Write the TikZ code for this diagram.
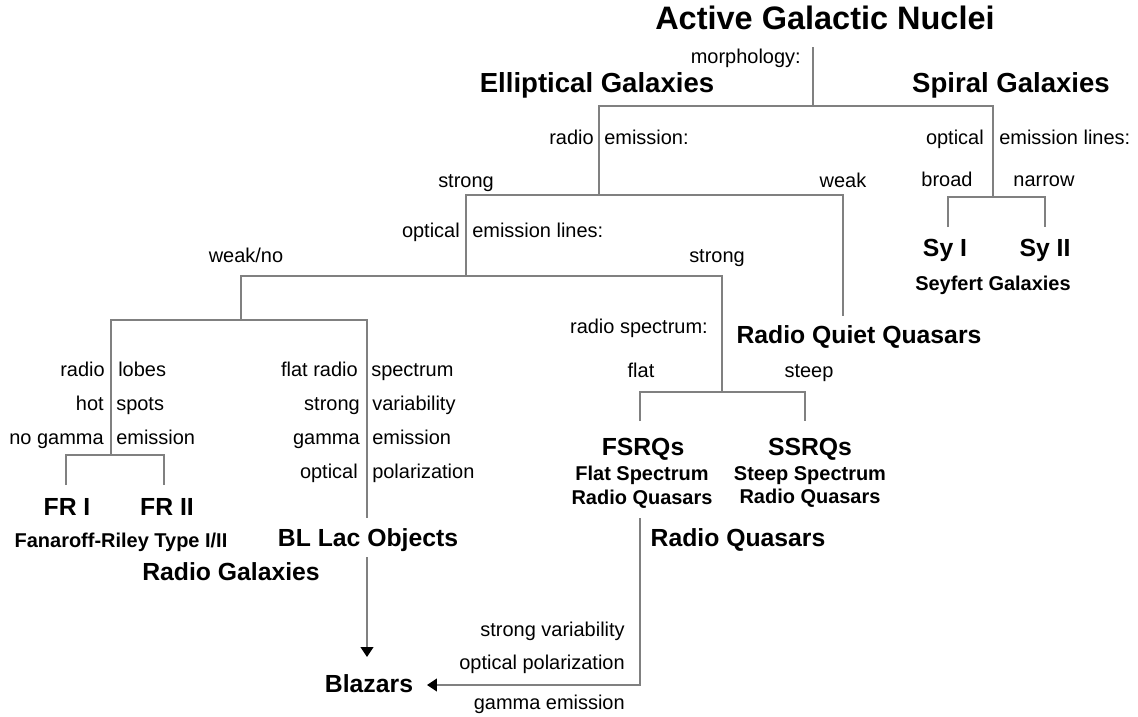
\documentclass[tikz,border=0pt]{standalone}
\usepackage{fontspec}
\setmainfont{Liberation Sans}
\usetikzlibrary{arrows.meta}

\begin{document}
\begin{tikzpicture}[x=0.025cm,y=-0.025cm,
		branch/.style={line width=1.1pt, black!50},
		tipped/.style={branch, -{Triangle[length=7pt,width=9pt,color=black]}},
		lab/.style={inner sep=0pt, text height=10pt, text depth=1pt, font=\fontsize{14.2}{17}\selectfont},
		klass/.style={inner sep=0pt, text height=12.7pt, text depth=0.7pt, font=\fontsize{17.6}{20}\selectfont\bfseries},
		galaxy/.style={inner sep=0pt, text height=14pt, text depth=0.8pt, font=\fontsize{19.6}{22}\selectfont\bfseries},
		subklass/.style={inner sep=0pt, align=center, font=\fontsize{14.2}{17}\selectfont\bfseries}]
			\useasboundingbox (0,0) rectangle (1138,717);
			% top level
			\node[inner sep=0pt, font=\fontsize{23.1}{26}\selectfont\bfseries] (agn) at (825,18) {Active Galactic Nuclei};
			\node[lab, anchor=east] (morph) at (801,57) {morphology:};
			\node[galaxy] (ellgal) at (597,83) {Elliptical Galaxies};
			\node[galaxy] (spigal) at (1011,83) {Spiral Galaxies};
			\coordinate (agntop) at (813,47);
			\coordinate (morphfork) at (813,106);
			\coordinate (radiofork) at (599,195);
			\coordinate (seyfork) at (993,197);
			\draw[branch] (agntop) -- (morphfork);
			\draw[branch] (radiofork) |- (morphfork) -| (seyfork);
			% spiral side
			\node[lab, anchor=east] (optS) at (984,138) {optical};
			\node[lab, anchor=west] (emlS) at (999,138) {emission lines:};
			\node[lab] (broad) at (947,180) {broad};
			\node[lab] (narrow) at (1044,180) {narrow};
			\coordinate (sya) at (948,227);
			\coordinate (syb) at (1045,227);
			\draw[branch] (sya) |- (seyfork) -| (syb);
			\node[klass] (syone) at (945,248) {Sy I};
			\node[klass] (sytwo) at (1045,248) {Sy II};
			\node[subklass] (seyfert) at (993,285) {Seyfert Galaxies};
			% elliptical side
			\node[lab, anchor=east] (radioE) at (594,138) {radio};
			\node[lab, anchor=west] (emE) at (604,138) {emission:};
			\node[lab] (strongE) at (466,181) {strong};
			\node[lab] (weakE) at (843,181) {weak};
			\coordinate (oelfork) at (466,276);
			\coordinate (rqqtop) at (843,316);
			\draw[branch] (oelfork) |- (radiofork) -| (rqqtop);
			\node[klass] (rqq) at (859,335) {Radio Quiet Quasars};
			\node[lab, anchor=east] (optE) at (460,231) {optical};
			\node[lab, anchor=west] (emlE) at (472,231) {emission lines:};
			\node[lab] (weakno) at (246,256) {weak/no};
			\node[lab] (strongO) at (717,256) {strong};
			\coordinate (weakfork) at (241,320);
			\coordinate (specfork) at (722,392);
			\draw[branch] (weakfork) |- (oelfork) -| (specfork);
			% radio galaxies and BL Lacs
			\coordinate (rgfork) at (111,455);
			\coordinate (blltop) at (367,518);
			\draw[branch] (rgfork) |- (weakfork) -| (blltop);
			\node[lab, anchor=east] (rgA) at (105,370) {radio};
			\node[lab, anchor=west] (rgB) at (118,370) {lobes};
			\node[lab, anchor=east] (rgC) at (104,404) {hot};
			\node[lab, anchor=west] (rgD) at (116,404) {spots};
			\node[lab, anchor=east] (rgE) at (104,438) {no gamma};
			\node[lab, anchor=west] (rgF) at (116,438) {emission};
			\coordinate (fra) at (66,485);
			\coordinate (frb) at (164,485);
			\draw[branch] (fra) |- (rgfork) -| (frb);
			\node[klass] (frone) at (67,507) {FR I};
			\node[klass] (frtwo) at (167,507) {FR II};
			\node[subklass] (fanaroff) at (121,542) {Fanaroff-Riley Type I/II};
			\node[klass] (radgal) at (231,572) {Radio Galaxies};
			\node[lab, anchor=east] (blA) at (358,370) {flat radio};
			\node[lab, anchor=west] (blB) at (371,370) {spectrum};
			\node[lab, anchor=east] (blC) at (360,404) {strong};
			\node[lab, anchor=west] (blD) at (372,404) {variability};
			\node[lab, anchor=east] (blE) at (360,438) {gamma};
			\node[lab, anchor=west] (blF) at (372,438) {emission};
			\node[lab, anchor=east] (blG) at (358,472) {optical};
			\node[lab, anchor=west] (blH) at (372,472) {polarization};
			\node[klass] (bllac) at (368,538) {BL Lac Objects};
			% radio quasars
			\node[lab, anchor=east] (rspec) at (708,327) {radio spectrum:};
			\node[lab] (flat) at (641,371) {flat};
			\node[lab] (steep) at (809,371) {steep};
			\coordinate (fsrqtop) at (640,421);
			\coordinate (ssrqtop) at (805,421);
			\draw[branch] (fsrqtop) |- (specfork) -| (ssrqtop);
			\node[klass] (fsrq) at (643,447) {FSRQs};
			\node[subklass] (fsrqlong) at (642,487) {Flat Spectrum\\Radio Quasars};
			\node[klass] (ssrq) at (810,447) {SSRQs};
			\node[subklass] (ssrqlong) at (810,487) {Steep Spectrum\\Radio Quasars};
			\node[klass] (radq) at (738,538) {Radio Quasars};
			% blazars
			\node[klass] (blazar) at (369,684) {Blazars};
			\coordinate (bllout) at (367,557);
			\coordinate (blazartop) at (367,657);
			\coordinate (fsrqout) at (640,518);
			\coordinate (blazarright) at (427,685);
			\draw[tipped] (bllout) -- (blazartop);
			\draw[tipped] (fsrqout) |- (blazarright);
			\node[lab, anchor=east] (bzA) at (625,630) {strong variability};
			\node[lab, anchor=east] (bzB) at (625,663) {optical polarization};
			\node[lab, anchor=east] (bzC) at (625,703) {gamma emission};
		\end{tikzpicture}
\end{document}
